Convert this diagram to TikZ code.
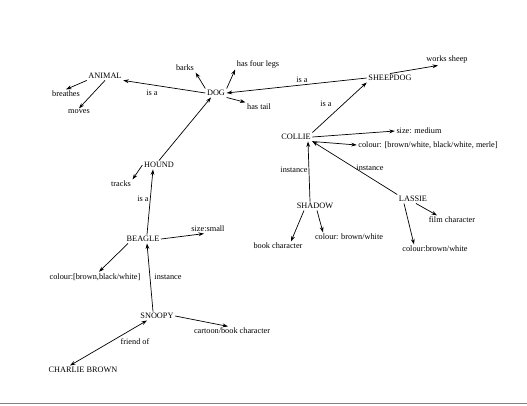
\documentclass[tikz,border=0pt]{standalone}
\usepackage{fontspec}
\setmainfont{Liberation Serif}
\usetikzlibrary{arrows.meta}
\begin{document}
\begin{tikzpicture}[x=1bp,y=-1bp,
 lbl/.style={font=\fontsize{8.3}{10}\selectfont, inner sep=1.5pt},
 arr/.style={-{Stealth[length=5.5bp,width=3.8bp]}, line width=0.7bp},
 darr/.style={{Stealth[length=5.5bp,width=3.8bp]}-{Stealth[length=5.5bp,width=3.8bp]}, line width=0.7bp}]
\useasboundingbox (0,0) rectangle (527,405);
\coordinate (bl) at (0,403.5);
\coordinate (br) at (527,403.5);
\draw[gray, line width=1.5bp] (bl) -- (br);
% nodes
\node[lbl] (animal) at (105,76) {ANIMAL};
\node[lbl] (breathes) at (66,94) {breathes};
\node[lbl] (moves) at (79,112) {moves};
\node[lbl] (dog) at (216,93) {DOG};
\node[lbl] (barks) at (185,68) {barks};
\node[lbl] (legs) at (258,64) {has four legs};
\node[lbl] (tail) at (259,107) {has tail};
\node[lbl] (sheepdog) at (390,78) {SHEEPDOG};
\node[lbl] (works) at (447,60) {works sheep};
\node[lbl] (isa1) at (152,93) {is a};
\node[lbl] (isa2) at (302,80) {is a};
\node[lbl] (collie) at (296,137) {COLLIE};
\node[lbl] (isa3) at (326,104) {is a};
\node[lbl] (cmed) at (419,131) {size: medium};
\node[lbl] (ccol) at (428,145) {colour: [brown/white, black/white, merle]};
\node[lbl] (inst1) at (294,170) {instance};
\node[lbl] (inst2) at (370,168) {instance};
\node[lbl] (shadow) at (315,206) {SHADOW};
\node[lbl] (lassie) at (413,199) {LASSIE};
\node[lbl] (film) at (452,220) {film character};
\node[lbl] (lcol) at (435,249) {colour:brown/white};
\node[lbl] (scol) at (349,237) {colour: brown/white};
\node[lbl] (book) at (278,246) {book character};
\node[lbl] (hound) at (159,165) {HOUND};
\node[lbl] (tracks) at (121,184) {tracks};
\node[lbl] (isa4) at (143,199) {is a};
\node[lbl] (beagle) at (143,239) {BEAGLE};
\node[lbl] (bsize) at (208,229) {size:small};
\node[lbl] (bcol) at (95,277) {colour:[brown,black/white]};
\node[lbl] (inst3) at (168,277) {instance};
\node[lbl] (snoopy) at (157,316) {SNOOPY};
\node[lbl] (cartoon) at (232,331) {cartoon/book character};
\node[lbl] (friend) at (135,342) {friend of};
\node[lbl] (charlie) at (83,370) {CHARLIE BROWN};
% connectors
\draw[arr] (animal.south west) -- (breathes.north);
\draw[arr] (animal.south) -- (moves.north);
\draw[arr] (dog.west) -- (animal.south east);
\draw[arr] (dog.north west) -- (barks.south east);
\draw[arr] (dog.north east) -- (legs.south west);
\draw[arr] (dog.south east) -- (tail.north west);
\draw[arr] (sheepdog.west) -- (dog.east);
\draw[arr] (sheepdog.north) -- ([xshift=-9bp]works.south);
\draw[arr] (hound.north) -- ([xshift=-5bp]dog.south);
\draw[arr] (collie.north east) -- (sheepdog.south west);
\draw[arr] (collie.east) -- (cmed.west);
\draw[arr] (collie.south east) -- (ccol.west);
\draw[arr] ([xshift=-5bp]shadow.north) -- ([xshift=12bp]collie.south);
\draw[arr] (lassie.north west) -- (collie.south east);
\draw[arr] ([xshift=-11bp]shadow.south) -- ([xshift=13bp]book.north);
\draw[arr] ([xshift=2bp]shadow.south) -- ([xshift=-26bp]scol.north);
\draw[arr] ([xshift=3bp]lassie.south) -- ([xshift=-15bp]film.north);
\draw[arr] ([xshift=-9bp]lassie.south) -- ([xshift=-21bp]lcol.north);
\draw[arr] (hound.west) -- (tracks.north east);
\draw[arr] ([xshift=4bp]beagle.north) -- ([xshift=-6bp]hound.south);
\draw[arr] (beagle.east) -- ([xshift=-4bp]bsize.south);
\draw[arr] ([xshift=-15bp]beagle.south) -- ([xshift=4bp]bcol.north);
\draw[arr] ([xshift=-4bp]snoopy.north) -- ([xshift=4bp]beagle.south);
\draw[arr] (snoopy.east) -- ([xshift=-4bp]cartoon.north);
\draw[darr] ([xshift=-13bp]charlie.north) -- ([xshift=-10bp]snoopy.south);
\end{tikzpicture}
\end{document}
